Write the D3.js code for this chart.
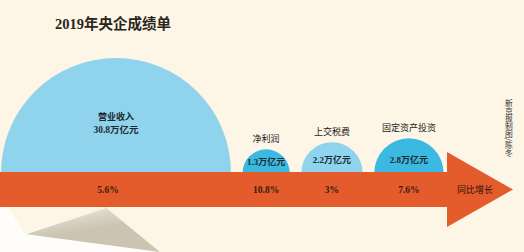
<!DOCTYPE html>
<html>
<head>
<meta charset="utf-8">
<script src="https://cdn.jsdelivr.net/npm/d3@7"></script>
<style>
  html, body { margin: 0; padding: 0; background: #fdf6e6; }
  svg { display: block; }
</style>
</head>
<body>
<svg id="chart"></svg>
<script>
// data
const names = ["营业收入", "净利润", "上交税费", "固定资产投资"];
const values = [30.8, 1.3, 2.2, 2.8];          // 万亿元
const growth = ["5.6%", "10.8%", "3%", "7.6%"]; // 同比增长
const fills = ["#8fd4ec", "#3cb9e0", "#8fd4ec", "#3cb9e0"];

const width = 524, height = 252;
const baseY = 172;      // top of the arrow band
const bandH = 35;
const gap = 11.5;

const svg = d3.select("#chart")
    .attr("width", width)
    .attr("height", height);

svg.append("rect")
    .attr("width", width).attr("height", height)
    .attr("fill", "#fdf6e6");

// semicircle area proportional to value
const r = d3.scaleSqrt()
    .domain([0, d3.max(values)])
    .range([0, 115]);

// pack semicircles along the arrow
let cursor = 1;
const centers = values.map(v => {
    const c = cursor + r(v);
    cursor = c + r(v) + gap;
    return c;
});

// paper-curl under the band
const defs = svg.append("defs");
const curl = defs.append("linearGradient").attr("id", "curl")
    .attr("x1", "0%").attr("y1", "0%").attr("x2", "30%").attr("y2", "60%");
curl.append("stop").attr("offset", "0%").attr("stop-color", "#f3efe6");
curl.append("stop").attr("offset", "100%").attr("stop-color", "#cbc4b2");
svg.append("path")
    .attr("d", "M0,207 L8,207 L25,234 L160,252 L0,252 Z")
    .attr("fill", "#fefdfa");
svg.append("path")
    .attr("d", "M105,207 L25,234 L160,252 Z")
    .attr("fill", "url(#curl)");
svg.append("path")
    .attr("d", "M105,208 L25,234")
    .attr("stroke", "#ffffff").attr("stroke-width", 1);

// semicircles
const arc = d3.arc()
    .innerRadius(0)
    .startAngle(-Math.PI / 2)
    .endAngle(Math.PI / 2);

svg.selectAll("path.semi")
    .data(values)
    .enter().append("path")
    .attr("class", "semi")
    .attr("transform", (d, i) => `translate(${centers[i]},${baseY + 1})`)
    .attr("d", d => arc({ outerRadius: r(d) }))
    .attr("fill", (d, i) => fills[i]);

// arrow
const headX = 447, tipX = 513;
svg.append("path")
    .attr("d", `M0,${baseY} L${headX},${baseY} L${headX},152 L${tipX},${baseY + bandH / 2}
                L${headX},227 L${headX},${baseY + bandH} L0,${baseY + bandH} Z`)
    .attr("fill", "#e45c2c");

const serif = "'Liberation Serif','DejaVu Serif','Noto Sans CJK SC',serif";
const sans = "'Noto Sans CJK SC',sans-serif";

// title
svg.append("text")
    .attr("x", 55).attr("y", 29)
    .attr("font-family", serif)
    .attr("font-weight", "bold")
    .attr("font-size", "14.5px")
    .attr("fill", "#2a2420")
    .text("2019年央企成绩单");

// first (large) label sits inside the circle
svg.append("text")
    .attr("x", centers[0]).attr("y", 120)
    .attr("text-anchor", "middle")
    .attr("font-family", sans).attr("font-weight", "bold")
    .attr("font-size", "9px").attr("fill", "#1d2a33")
    .text(names[0]);
svg.append("text")
    .attr("x", centers[0]).attr("y", 133)
    .attr("text-anchor", "middle")
    .attr("font-family", serif).attr("font-weight", "bold")
    .attr("font-size", "9.5px").attr("fill", "#1d2a33")
    .text(values[0] + "万亿元");

// smaller ones: name above, value inside
svg.selectAll("text.name")
    .data(names.slice(1))
    .enter().append("text")
    .attr("class", "name")
    .attr("x", (d, i) => centers[i + 1])
    .attr("y", (d, i) => baseY - r(values[i + 1]) - 6)
    .attr("text-anchor", "middle")
    .attr("font-family", sans)
    .attr("font-size", "9px").attr("fill", "#222")
    .text(d => d);

svg.selectAll("text.val")
    .data(values.slice(1))
    .enter().append("text")
    .attr("class", "val")
    .attr("x", (d, i) => centers[i + 1])
    .attr("y", d => baseY - Math.min(r(d) * 0.35, 10) + 1)
    .attr("text-anchor", "middle")
    .attr("font-family", serif).attr("font-weight", "bold")
    .attr("font-size", "9px").attr("fill", "#1d2a33")
    .text(d => d + "万亿元");

// growth labels on the band
svg.selectAll("text.growth")
    .data(growth)
    .enter().append("text")
    .attr("class", "growth")
    .attr("x", (d, i) => i === 0 ? centers[i] - 8 : centers[i])
    .attr("y", baseY + bandH / 2 + 3.5)
    .attr("text-anchor", "middle")
    .attr("font-family", serif).attr("font-weight", "bold")
    .attr("font-size", "9.5px").attr("fill", "#3a1a0c")
    .text(d => d);

svg.append("text")
    .attr("x", 475).attr("y", baseY + bandH / 2 + 3.5)
    .attr("text-anchor", "middle")
    .attr("font-family", sans)
    .attr("font-size", "9px").attr("fill", "#2a1308")
    .text("同比增长");

// credit, vertical
svg.append("text")
    .attr("x", 509).attr("y", 99)
    .style("writing-mode", "vertical-rl")
    .attr("font-family", sans)
    .attr("font-size", "7.8px").attr("fill", "#333")
    .text("新京报制图/陈冬");
</script>
</body>
</html>
